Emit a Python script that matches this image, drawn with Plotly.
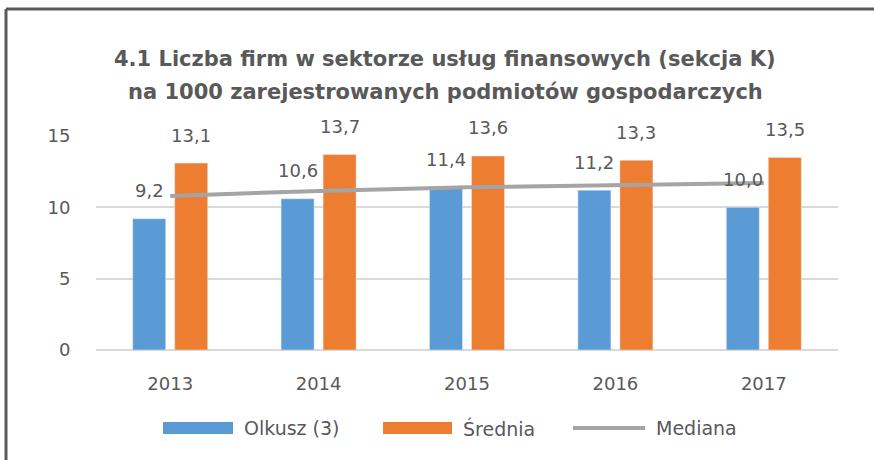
import plotly.graph_objects as go

years = ["2013", "2014", "2015", "2016", "2017"]
olkusz = [9.2, 10.6, 11.4, 11.2, 10.0]
srednia = [13.1, 13.7, 13.6, 13.3, 13.5]
mediana = [10.8, 11.15, 11.4, 11.55, 11.7]
olkusz_labels = ["9,2", "10,6", "11,4", "11,2", "10,0"]
srednia_labels = ["13,1", "13,7", "13,6", "13,3", "13,5"]
series_names = ["Olkusz (3)", "Średnia", "Mediana"]
title_lines = ["4.1 Liczba firm w sektorze usług finansowych (sekcja K)",
               "na 1000 zarejestrowanych podmiotów gospodarczych"]

FONT = "DejaVu Sans, sans-serif"
TXT = "#595959"
BLUE, ORANGE, GREY = "#5B9BD5", "#ED7D31", "#A5A5A5"

# plot area in pixels: x 96..838, y 136..350
L, R, T, B = 96, 838, 136, 350
def px(x):
    return (x - L) / (R - L)
def py(y):
    return (B - y) / (B - T)

fig = go.Figure()
fig.add_trace(go.Bar(x=years, y=olkusz, name=series_names[0], marker_color=BLUE,
                     showlegend=False))
fig.add_trace(go.Bar(x=years, y=srednia, name=series_names[1], marker_color=ORANGE,
                     showlegend=False))
fig.add_trace(go.Scatter(x=years, y=mediana, name=series_names[2], mode="lines",
                         line=dict(color=GREY, width=4), showlegend=False))

# data labels (category axis: position by category index)
for i, (v, t) in enumerate(zip(olkusz, olkusz_labels)):
    fig.add_annotation(x=i, y=v, text=t, showarrow=False, xshift=-21, yshift=28,
                       yanchor="middle", font=dict(size=18, color=TXT, family=FONT))
for i, (v, t) in enumerate(zip(srednia, srednia_labels)):
    fig.add_annotation(x=i, y=v, text=t, showarrow=False, xshift=21, yshift=28,
                       yanchor="middle", font=dict(size=18, color=TXT, family=FONT))

# title (two lines)
for text, yc in zip(title_lines, [59, 92]):
    fig.add_annotation(xref="paper", yref="paper", x=px(445), y=py(yc), text=f"<b>{text}</b>",
                       showarrow=False, xanchor="center", yanchor="middle",
                       font=dict(size=21, color=TXT, family=FONT))

# custom legend
leg_y = 428
for (x0, x1), color, name, kind in zip([(163, 233), (383, 452), (573, 645)],
                                       [BLUE, ORANGE, GREY], series_names,
                                       ["rect", "rect", "line"]):
    if kind == "rect":
        fig.add_shape(type="rect", xref="paper", yref="paper", x0=px(x0), x1=px(x1),
                      y0=py(leg_y - 6), y1=py(leg_y + 6), fillcolor=color, line_width=0)
    else:
        fig.add_shape(type="line", xref="paper", yref="paper", x0=px(x0), x1=px(x1),
                      y0=py(leg_y), y1=py(leg_y), line=dict(color=color, width=4))
    fig.add_annotation(xref="paper", yref="paper", x=px(x1 + 9), y=py(leg_y), text=name,
                       showarrow=False, xanchor="left", yanchor="middle",
                       font=dict(size=19, color=TXT, family=FONT))

# chart frame (top and left edges visible)
fig.add_shape(type="line", xref="paper", yref="paper", x0=px(6), x1=px(880), y0=py(9), y1=py(9),
              line=dict(color="#5a5a5a", width=3))
fig.add_shape(type="line", xref="paper", yref="paper", x0=px(6), x1=px(6), y0=py(9), y1=py(470),
              line=dict(color="#5a5a5a", width=3))

fig.update_layout(
    width=874, height=460,
    margin=dict(l=L, r=874 - R, t=T, b=460 - B),
    paper_bgcolor="white", plot_bgcolor="white",
    barmode="group", bargap=0.434, bargroupgap=0.214,
    font=dict(family=FONT, color=TXT, size=18),
    showlegend=False,
    xaxis=dict(type="category", range=[-0.5, 4.5], showgrid=False, showline=False,
               ticks="outside", ticklen=17, tickcolor="rgba(0,0,0,0)",
               tickfont=dict(size=18, color=TXT)),
    yaxis=dict(range=[0, 15], tickvals=[0, 5, 10, 15], showgrid=True, gridcolor="#D9D9D9",
               gridwidth=1.5, zeroline=True, zerolinecolor="#D9D9D9", zerolinewidth=1.5,
               showline=False, ticks="outside", ticklen=21, tickcolor="rgba(0,0,0,0)",
               tickfont=dict(size=18, color=TXT)),
)

fig.write_html("out.html", config={"displayModeBar": False},
               post_script="document.body.style.margin='0';")
